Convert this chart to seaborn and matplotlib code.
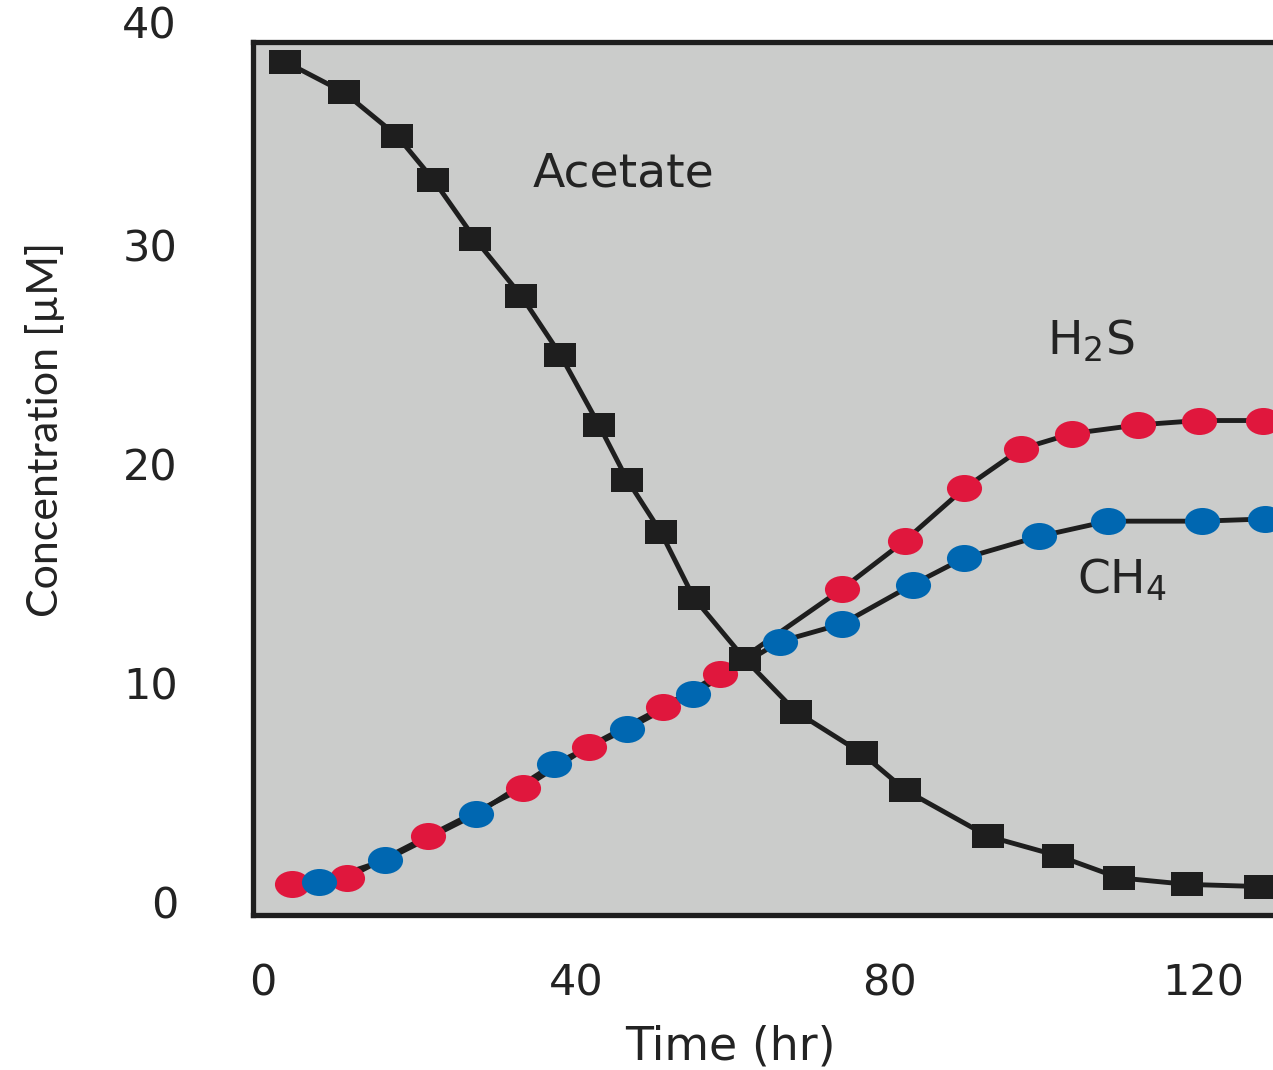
import matplotlib
matplotlib.use("Agg")
import matplotlib.pyplot as plt
import matplotlib.transforms as mtransforms
from matplotlib.path import Path
import pandas as pd
import seaborn as sns

# Time course of acetate consumption and product formation
acetate_time = [2.9, 10.4, 17.2, 21.8, 27.1, 33.0, 38.0, 42.9, 46.5, 50.8,
                55.0, 61.5, 68.0, 76.4, 82.0, 92.5, 101.5, 109.2, 117.9, 127.2]
acetate_conc = [38.4, 37.0, 35.0, 33.0, 30.3, 27.7, 25.0, 21.8, 19.3, 16.9,
                13.9, 11.1, 8.7, 6.8, 5.1, 3.0, 2.1, 1.1, 0.8, 0.7]

h2s_time = [3.8, 10.8, 21.1, 33.2, 41.6, 51.1, 58.3, 73.9, 81.9, 89.5,
            96.7, 103.2, 111.7, 119.4, 127.6]
h2s_conc = [0.8, 1.1, 3.0, 5.2, 7.1, 8.9, 10.4, 14.3, 16.5, 18.9,
            20.7, 21.4, 21.8, 22.0, 22.0]

ch4_time = [7.2, 15.6, 27.2, 37.2, 46.5, 54.9, 66.0, 73.9, 82.9, 89.4,
            99.0, 107.8, 119.8, 127.8]
ch4_conc = [0.9, 1.9, 4.0, 6.3, 7.9, 9.5, 11.9, 12.7, 14.5, 15.7,
            16.7, 17.4, 17.4, 17.5]

x_ticks = [0, 40, 80, 120]
y_ticks = [0, 10, 20, 30, 40]

acetate = pd.DataFrame({"time": acetate_time, "conc": acetate_conc})
h2s = pd.DataFrame({"time": h2s_time, "conc": h2s_conc})
ch4 = pd.DataFrame({"time": ch4_time, "conc": ch4_conc})

sns.set_theme(style="white")
plt.rcParams["font.family"] = ["DejaVu Sans"]
plt.rcParams["mathtext.default"] = "regular"

INK = "#1e1e1e"
TEXT = "#232323"
RED = "#e0173d"
BLUE = "#0067b1"
PANEL = "#cbcccb"

# wide elliptical dot and wide square marker shapes
dot = mtransforms.Affine2D().scale(1.3, 1.0).transform_path(Path.unit_circle())
box = Path([(-1.33, -1), (1.33, -1), (1.33, 1), (-1.33, 1), (-1.33, -1)],
           [Path.MOVETO, Path.LINETO, Path.LINETO, Path.LINETO, Path.CLOSEPOLY])

fig = plt.figure(figsize=(12.73, 10.70), dpi=100)
fig.patch.set_facecolor("white")
ax = fig.add_axes([253 / 1273, 155 / 1070, 1025 / 1273, 873 / 1070])
ax.set_facecolor(PANEL)

line_kw = dict(color=INK, lw=3.5, sort=False, estimator=None, legend=False, ax=ax)
sns.lineplot(data=h2s, x="time", y="conc", zorder=2, **line_kw)
sns.lineplot(data=ch4, x="time", y="conc", zorder=2, **line_kw)
sns.lineplot(data=acetate, x="time", y="conc", zorder=2, **line_kw)

sns.scatterplot(data=h2s, x="time", y="conc", marker=dot, s=640, color=RED,
                linewidth=0, zorder=3, legend=False, ax=ax)
sns.scatterplot(data=ch4, x="time", y="conc", marker=dot, s=640, color=BLUE,
                linewidth=0, zorder=3, legend=False, ax=ax)
sns.scatterplot(data=acetate, x="time", y="conc", marker=box, s=540, color=INK,
                linewidth=0, zorder=4, legend=False, ax=ax)

ax.set_xlim(-1.2, 129.5)
ax.set_ylim(-0.6, 39.3)
ax.set_xticks(x_ticks)
ax.set_xticklabels([str(v) for v in x_ticks])
inside = [v for v in y_ticks if v <= ax.get_ylim()[1]]
ax.set_yticks(inside)
ax.set_yticklabels([str(v) for v in inside])
ax.tick_params(axis="both", length=0, labelsize=31, labelcolor=TEXT)
ax.tick_params(axis="y", pad=54)
ax.tick_params(axis="x", pad=34)

# the top tick value sits above the panel edge
ylab_tf = mtransforms.blended_transform_factory(ax.transAxes, ax.transData)
for v in y_ticks:
    if v > ax.get_ylim()[1]:
        ax.text(-76 / 1025, v, str(v), transform=ylab_tf, ha="right",
                va="center", fontsize=31, color=TEXT, clip_on=False)

for side in ax.spines.values():
    side.set_visible(True)
    side.set_color(INK)
    side.set_linewidth(3.8)

ax.set_xlabel("Time (hr)", fontsize=33, color=TEXT)
ax.xaxis.set_label_coords(0.466, -0.126)
ax.set_ylabel("Concentration [\u00b5M]", color=TEXT, fontsize=31,
              family=["Lato", "DejaVu Sans"])
ax.yaxis.set_label_coords(-0.183, 0.556)

ax.text(46.0, 32.7, "Acetate", fontsize=34, color=TEXT, ha="center", va="baseline")
ax.text(105.6, 25.0, "H$_2$S", fontsize=34, color=TEXT, ha="center", va="baseline")
ax.text(109.6, 14.1, "CH$_4$", fontsize=34, color=TEXT, ha="center", va="baseline")

fig.savefig("out.png", dpi=100, facecolor="white")
